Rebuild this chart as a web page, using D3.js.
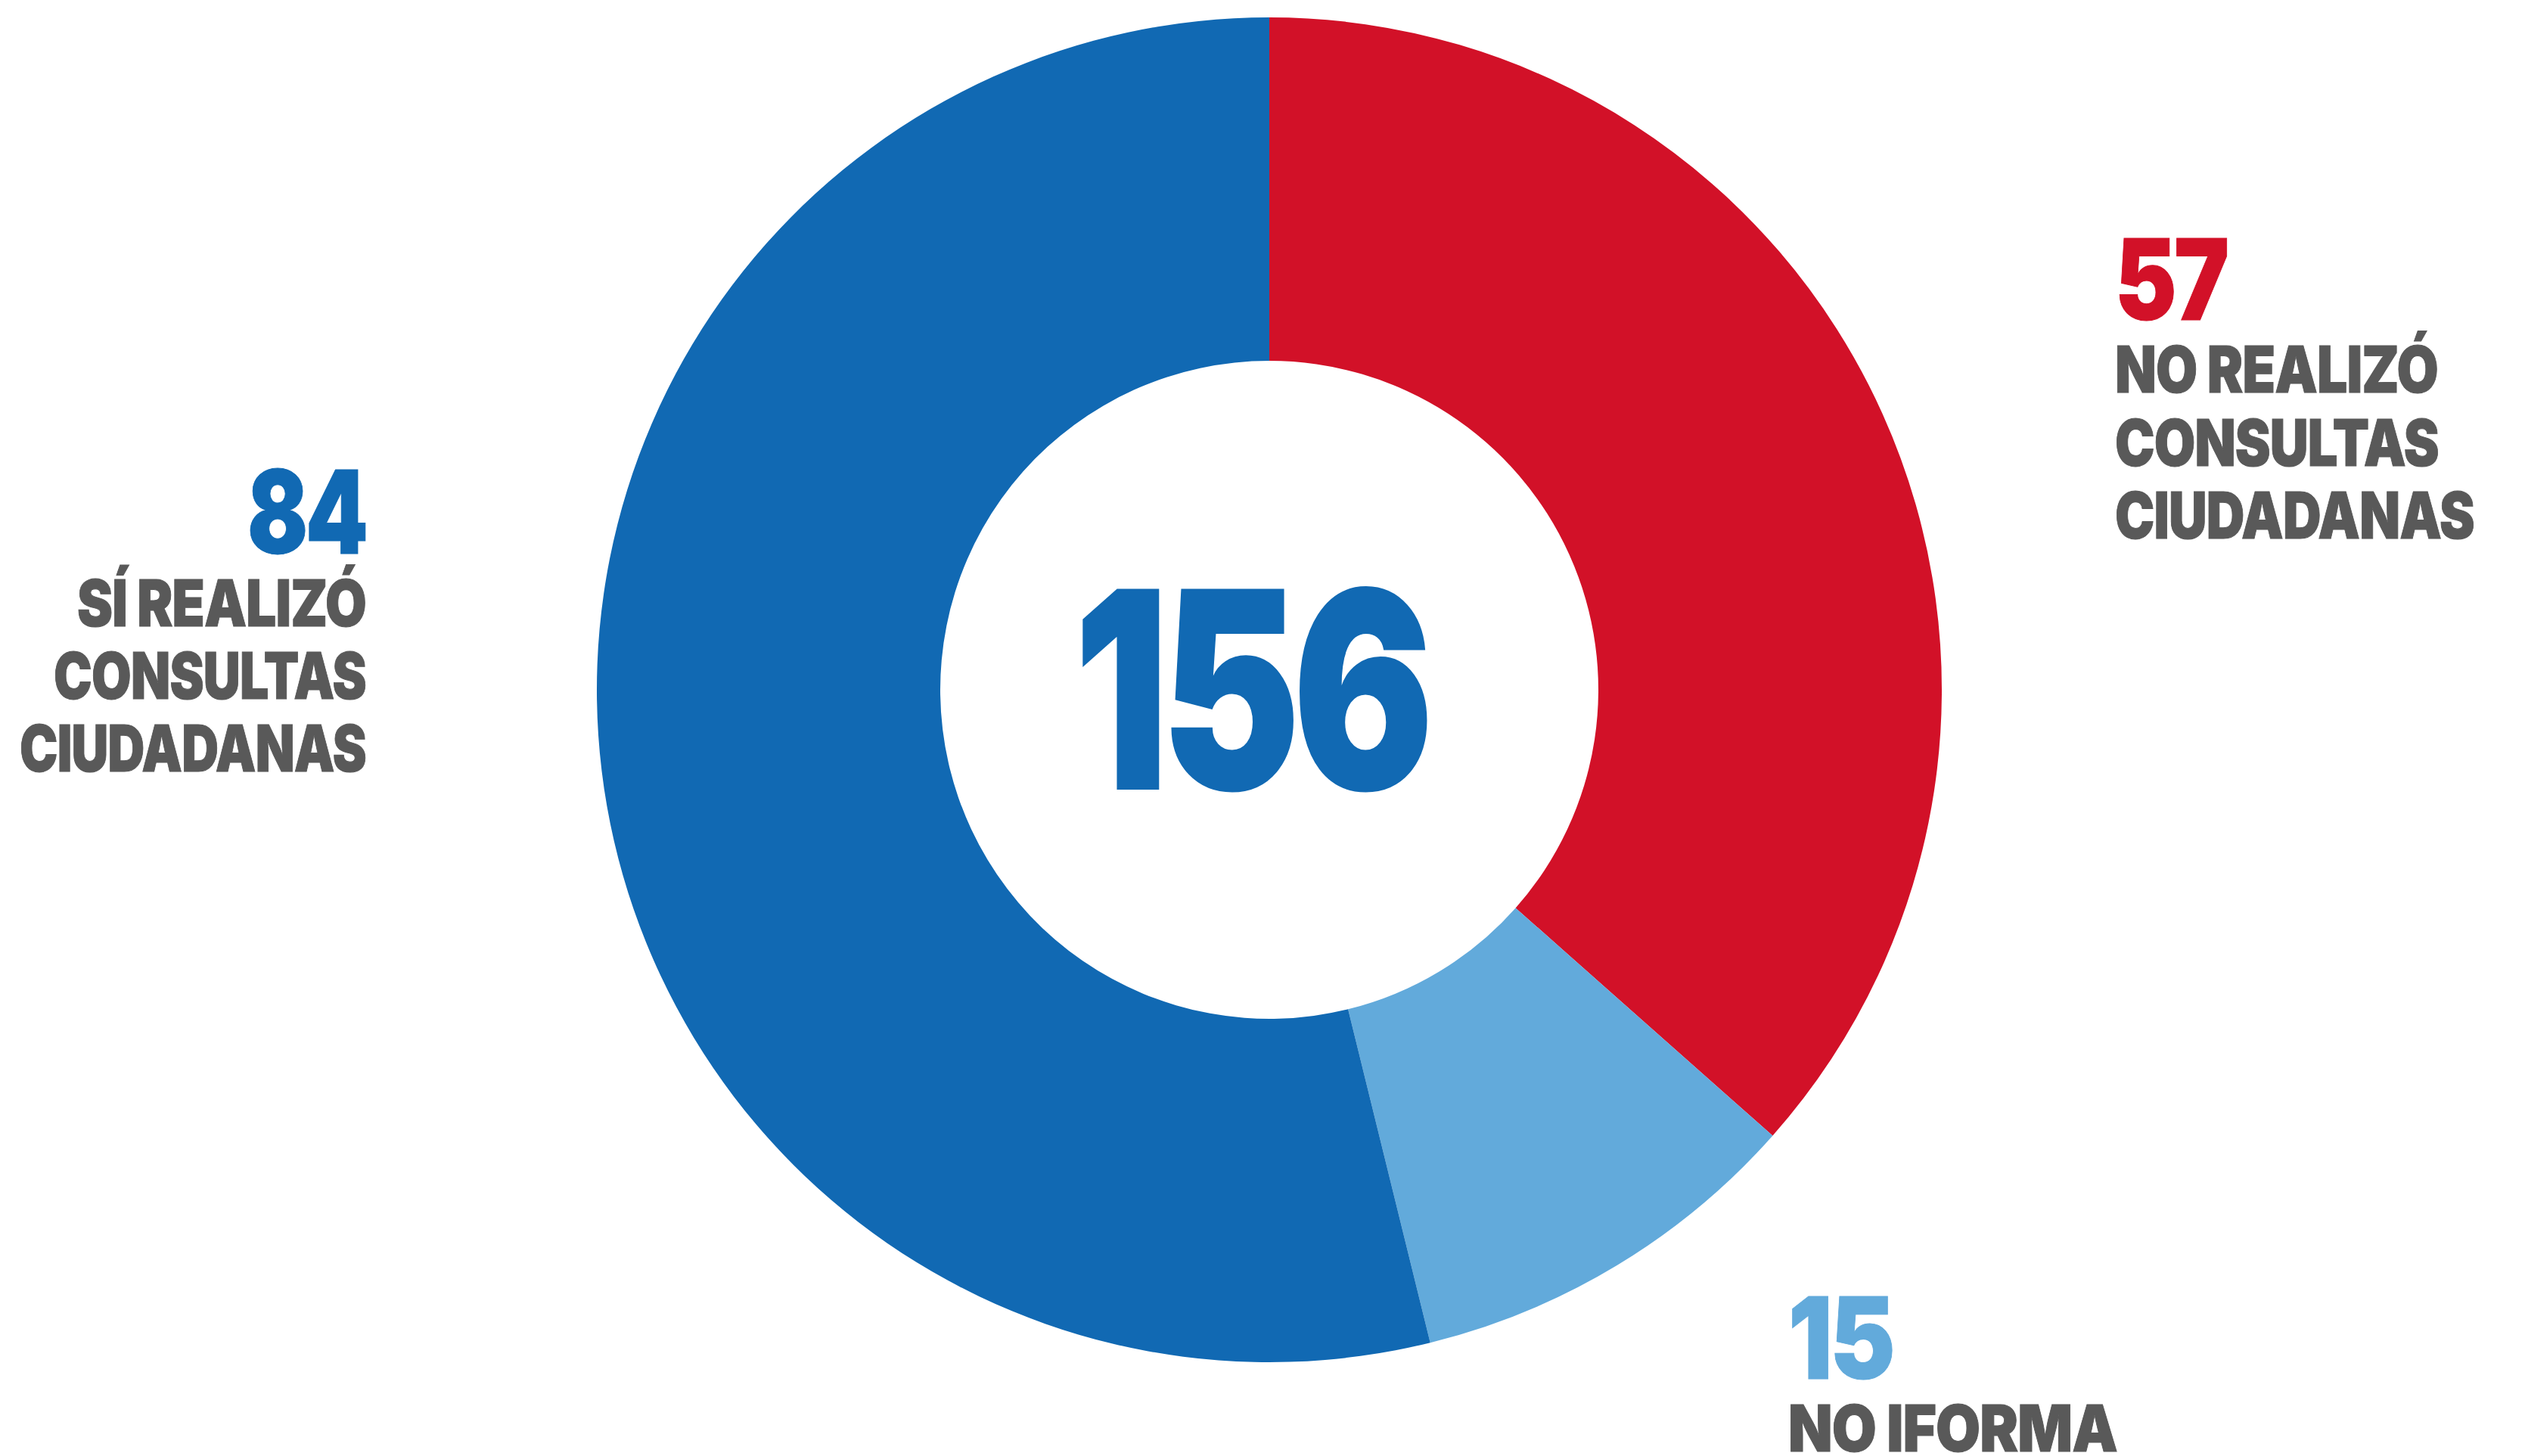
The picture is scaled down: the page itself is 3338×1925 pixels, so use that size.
<!DOCTYPE html>
<html>
<head>
<meta charset="utf-8">
<script src="https://cdn.jsdelivr.net/npm/d3@7"></script>
<style>
  html, body { margin: 0; padding: 0; background: #ffffff; }
  svg { display: block; }
  text { font-family: Inter, Roboto, "Open Sans", sans-serif; font-weight: 900; }
</style>
</head>
<body>
<svg id="chart" width="3338" height="1925"></svg>
<script>
// ---- data ----
const categories = ["NO REALIZÓ CONSULTAS CIUDADANAS", "NO IFORMA", "SÍ REALIZÓ CONSULTAS CIUDADANAS"];
const values = [57, 15, 84];
const labelLines = [
  ["NO REALIZÓ", "CONSULTAS", "CIUDADANAS"],
  ["NO IFORMA"],
  ["SÍ REALIZÓ", "CONSULTAS", "CIUDADANAS"]
];
const colors = ["#D21128", "#62AADB", "#1169B3"];

// ---- layout ----
const cx = 1678, cy = 912;
const outerR = 889, innerR = 435;
const gray = "#595959";

const svg = d3.select("#chart");

const pie = d3.pie().sort(null).value(d => d);
const arc = d3.arc().innerRadius(innerR).outerRadius(outerR);

const g = svg.append("g").attr("transform", `translate(${cx},${cy})`);
g.selectAll("path")
  .data(pie(values))
  .join("path")
  .attr("d", arc)
  .attr("fill", (d, i) => colors[i]);

// horizontally fit a text to a target width, scaling around its anchor x
function fit(sel, x, w) {
  const bb = sel.node().getBBox();
  const s = w / bb.width;
  sel.attr("transform", `translate(${x},0) scale(${s},1) translate(${-x},0)`);
}

// center total
const tot = svg.append("text")
  .attr("x", 1653)
  .attr("y", 1043)
  .attr("text-anchor", "middle")
  .attr("font-size", 362)
  .attr("letter-spacing", -12)
  .attr("fill", colors[2])
  .attr("stroke", colors[2])
  .attr("stroke-width", 2)
  .text(d3.sum(values));
fit(tot, 1653, 466);

// label placement
const labelPos = [
  { x: 2796, anchor: "start", numY: 423, numSize: 149, numW: 148, lineY: [519, 616, 712], lineW: [427, 428, 475] },
  { x: 2364, anchor: "start", numY: 1823, numSize: 150, numW: 138, lineY: [1919], lineW: [435] },
  { x: 484, anchor: "end", numY: 732, numSize: 153, numW: 157, lineY: [828, 924, 1020], lineW: [382, 413, 458] }
];

values.forEach((v, i) => {
  const p = labelPos[i];
  const t = svg.append("text")
    .attr("x", p.x)
    .attr("y", p.numY)
    .attr("text-anchor", p.anchor)
    .attr("font-size", p.numSize)
    .attr("letter-spacing", -4)
    .attr("fill", colors[i])
    .attr("stroke", colors[i])
    .attr("stroke-width", 1)
    .text(v);
  fit(t, p.x, p.numW);
  labelLines[i].forEach((line, j) => {
    const l = svg.append("text")
      .attr("x", p.x)
      .attr("y", p.lineY[j])
      .attr("text-anchor", p.anchor)
      .attr("font-size", 85)
      .attr("letter-spacing", -1)
      .attr("fill", gray)
      .attr("stroke", gray)
      .attr("stroke-width", 1)
      .text(line);
    fit(l, p.x, p.lineW[j]);
  });
});
</script>
</body>
</html>
